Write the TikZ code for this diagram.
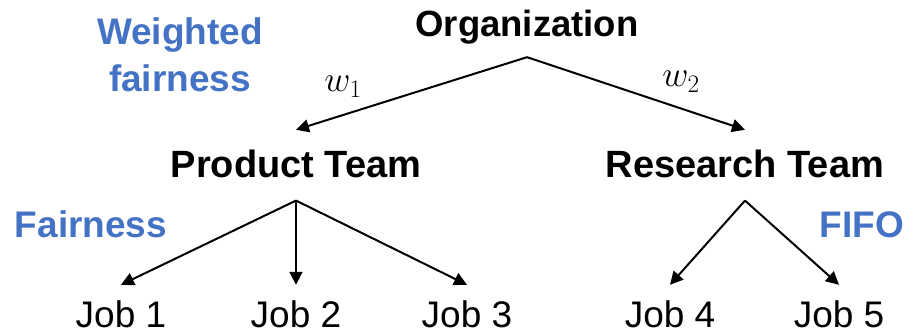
\documentclass[tikz,border=0pt]{standalone}
\usepackage{fix-cm}
\usepackage{fontspec}
\setmainfont{Liberation Sans}
\usetikzlibrary{arrows.meta}
\definecolor{policyblue}{RGB}{68,114,196}
\begin{document}
\begin{tikzpicture}[
    x=1pt, y=-1pt,
    team/.style={font=\fontsize{38}{40}\selectfont\bfseries, inner sep=0pt,
                 text height=26pt, inner ysep=22pt},
    root/.style={font=\fontsize{36.5}{40}\selectfont\bfseries, inner sep=0pt,
                 text height=26pt, text depth=8pt, inner ysep=12pt},
    job/.style={font=\fontsize{37}{40}\selectfont, inner sep=0pt,
                text height=26pt, inner ysep=16pt},
    policy/.style={font=\fontsize{37}{47}\selectfont\bfseries, text=policyblue,
                   align=center, inner sep=0pt},
    weight/.style={font=\fontsize{36}{40}\selectfont, inner sep=0pt},
    edge/.style={-{Triangle[length=13pt, width=13pt]}, line width=2pt},
  ]
  \useasboundingbox (0,0) rectangle (908,334);
  % Row 1: the organization
  \node[root, anchor=base] (org) at (527, 37) {Organization};
  \node[policy, anchor=base] (wfair) at (180, 92) {Weighted\\fairness};
  % Row 2: the teams
  \node[team, anchor=base] (prod) at (296, 178) {Product Team};
  \node[team, anchor=base] (res) at (745, 178) {Research Team};
  \node[policy, anchor=base] (fair) at (91, 237) {Fairness};
  \node[policy, anchor=base] (fifo) at (862, 237) {FIFO};
  % Row 3: the jobs
  \node[job, anchor=base] (job1) at (121, 327) {Job 1};
  \node[job, anchor=base] (job2) at (296, 327) {Job 2};
  \node[job, anchor=base] (job3) at (467, 327) {Job 3};
  \node[job, anchor=base] (job4) at (670, 327) {Job 4};
  \node[job, anchor=base] (job5) at (839, 327) {Job 5};
  % the tree
  \draw[edge] (org.south) -- (prod.north);
  \draw[edge] (org.south) -- (res.north);
  \node[weight, anchor=base] (w1) at (343, 92) {$w_1$};
  \node[weight, anchor=base] (w2) at (681, 87) {$w_2$};
  \foreach \j in {job1, job2, job3}
    \draw[edge] (prod.south) -- (\j.north);
  \foreach \j in {job4, job5}
    \draw[edge] (res.south) -- (\j.north);
\end{tikzpicture}
\end{document}
